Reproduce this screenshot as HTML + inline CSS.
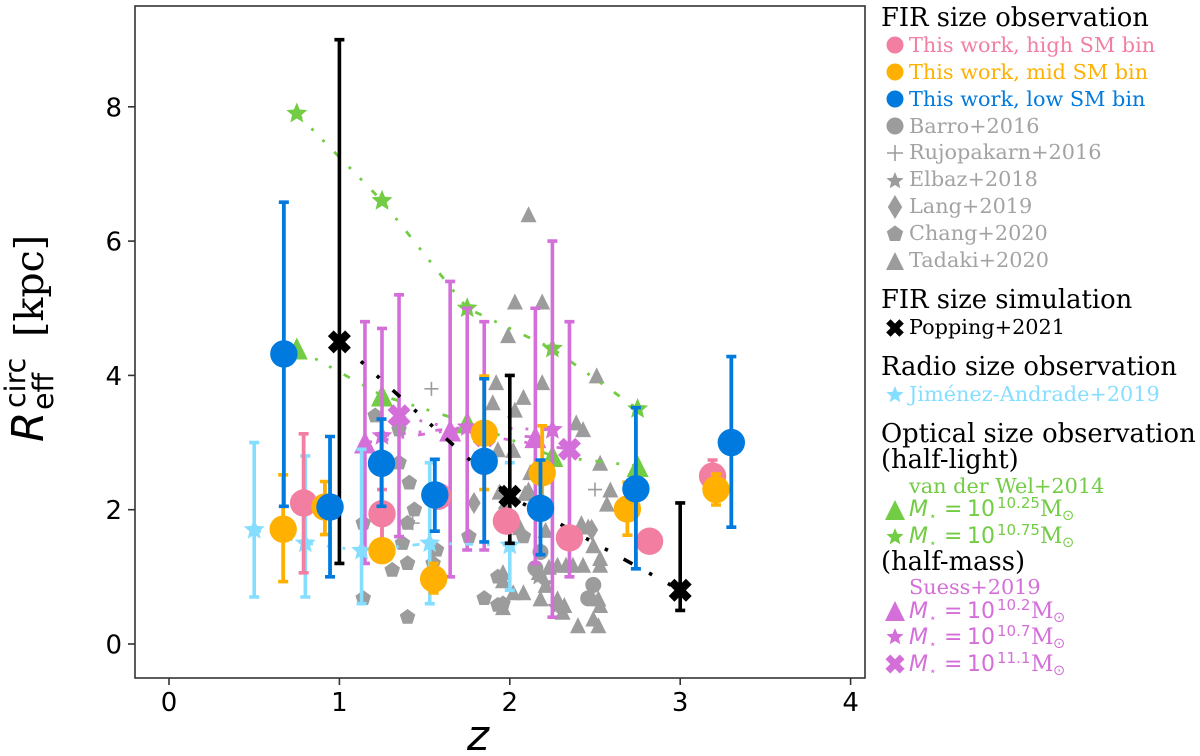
<!DOCTYPE html>
<html lang="en">
<head>
<meta charset="utf-8">
<title>Effective radius versus redshift</title>
<style>
html,body{margin:0;padding:0;background:#fff;}
svg{display:block;}
.lt{font-family:"DejaVu Serif","Liberation Serif",serif;font-size:20.8px;}
.ttl{font-family:"DejaVu Serif","Liberation Serif",serif;font-size:25.8px;fill:#000;}
.math{font-family:"DejaVu Sans","Liberation Sans",sans-serif;font-size:22px;}
.tick{font-family:"DejaVu Sans","Liberation Sans",sans-serif;font-size:26px;fill:#000;}
</style>
</head>
<body>
<svg id="chart" xmlns="http://www.w3.org/2000/svg" width="1200" height="756" viewBox="0 0 1200 756">
  <rect x="135" y="6" width="730" height="672" fill="#fff"/>
  <g id="marks"></g>
  <rect x="135" y="6" width="730" height="672" fill="none" stroke="#333" stroke-width="1.6"/>
  <g id="axes"></g>
  <text x="467" y="750" font-family="DejaVu Sans" font-style="italic" font-size="42">z</text>
  <g transform="translate(43,442) rotate(-90)">
    <text x="0" y="0" font-family="DejaVu Sans" font-style="italic" font-size="44">R</text>
    <text x="34" y="-18" font-family="DejaVu Sans" font-size="28.5">circ</text>
    <text x="32" y="10" font-family="DejaVu Sans" font-size="28.5">eff</text>
    <text x="105" y="0" font-family="DejaVu Serif" font-size="39.5">[kpc]</text>
  </g>
  <g id="legend-markers"></g>
  <g>
    <text class="ttl" x="881" y="26">FIR size observation</text>
    <text class="lt" x="909" y="52" fill="#f27fa2">This work, high SM bin</text>
    <text class="lt" x="909" y="79" fill="#ffb000">This work, mid SM bin</text>
    <text class="lt" x="909" y="106" fill="#007ade">This work, low SM bin</text>
    <text class="lt" x="909" y="133" fill="#a3a3a3">Barro+2016</text>
    <text class="lt" x="909" y="159" fill="#a3a3a3">Rujopakarn+2016</text>
    <text class="lt" x="909" y="186" fill="#a3a3a3">Elbaz+2018</text>
    <text class="lt" x="909" y="213" fill="#a3a3a3">Lang+2019</text>
    <text class="lt" x="909" y="240" fill="#a3a3a3">Chang+2020</text>
    <text class="lt" x="909" y="267" fill="#a3a3a3">Tadaki+2020</text>
    <text class="ttl" x="881" y="308">FIR size simulation</text>
    <text class="lt" x="909" y="334" fill="#000">Popping+2021</text>
    <text class="ttl" x="881" y="375">Radio size observation</text>
    <text class="lt" x="909" y="401" fill="#85deff">Jiménez-Andrade+2019</text>
    <text class="ttl" x="881" y="442">Optical size observation</text>
    <text class="ttl" x="881" y="468">(half-light)</text>
    <text class="lt" x="909" y="493" fill="#72cc44">van der Wel+2014</text>
    <text class="math" fill="#72cc44"><tspan x="909" y="516" font-style="italic">M</tspan><tspan x="929" y="520" font-size="12">⋆</tspan><tspan x="944" y="516">=</tspan><tspan x="967" y="516">10</tspan><tspan x="997" y="508" font-size="15">10.25</tspan><tspan x="1040" y="516" font-family="DejaVu Serif">M</tspan><tspan x="1062" y="520" font-size="14.5">⊙</tspan></text>
    <text class="math" fill="#72cc44"><tspan x="909" y="543" font-style="italic">M</tspan><tspan x="929" y="547" font-size="12">⋆</tspan><tspan x="944" y="543">=</tspan><tspan x="967" y="543">10</tspan><tspan x="997" y="535" font-size="15">10.75</tspan><tspan x="1040" y="543" font-family="DejaVu Serif">M</tspan><tspan x="1062" y="547" font-size="14.5">⊙</tspan></text>
    <text class="ttl" x="881" y="570">(half-mass)</text>
    <text class="lt" x="909" y="594" fill="#d46fd9">Suess+2019</text>
    <text class="math" fill="#d46fd9"><tspan x="909" y="618" font-style="italic">M</tspan><tspan x="929" y="622" font-size="12">⋆</tspan><tspan x="944" y="618">=</tspan><tspan x="967" y="618">10</tspan><tspan x="997" y="610" font-size="15">10.2</tspan><tspan x="1031" y="618" font-family="DejaVu Serif">M</tspan><tspan x="1053" y="622" font-size="14.5">⊙</tspan></text>
    <text class="math" fill="#d46fd9"><tspan x="909" y="644" font-style="italic">M</tspan><tspan x="929" y="648" font-size="12">⋆</tspan><tspan x="944" y="644">=</tspan><tspan x="967" y="644">10</tspan><tspan x="997" y="636" font-size="15">10.7</tspan><tspan x="1031" y="644" font-family="DejaVu Serif">M</tspan><tspan x="1053" y="648" font-size="14.5">⊙</tspan></text>
    <text class="math" fill="#d46fd9"><tspan x="909" y="671" font-style="italic">M</tspan><tspan x="929" y="675" font-size="12">⋆</tspan><tspan x="944" y="671">=</tspan><tspan x="967" y="671">10</tspan><tspan x="997" y="663" font-size="15">11.1</tspan><tspan x="1031" y="671" font-family="DejaVu Serif">M</tspan><tspan x="1053" y="675" font-size="14.5">⊙</tspan></text>
  </g>
</svg>
<script>
// ---- axis tick labels ----
const xTicks = [0, 1, 2, 3, 4];
const yTicks = [0, 2, 4, 6, 8];

// ---- literature scatter (grey) ----
const tadakiZ = [2.11,2.03,2.19,1.99,1.92,2.19,2.51,2.08,1.90,2.03,2.39,2.43,2.53,2.59,2.57,2.02,1.93,2.12,2.11,2.09,1.94,2.21,2.42,2.46,2.49,2.53,2.53,2.28,2.33,2.37,2.43,1.96,2.17,2.23,1.96,2.02,2.08,2.18,2.21,2.28,2.32,2.31,2.40,2.52,2.49,2.53,2.52,1.96,2.06];
const tadakiR = [6.40,5.10,5.10,4.60,3.90,3.90,4.00,3.68,3.60,3.49,3.30,3.20,2.70,2.30,2.09,2.89,2.90,2.56,2.30,2.25,2.27,1.70,1.80,1.75,1.47,1.28,1.18,1.18,1.18,1.18,1.18,1.07,1.07,1.15,0.95,0.77,0.77,0.68,0.88,0.68,0.58,0.48,0.28,0.28,0.38,0.58,0.68,0.55,1.74];
const changZ = [1.21,1.35,1.35,1.41,1.44,1.14,1.40,1.37,1.57,1.31,1.40,1.55,1.14,1.40,1.76,1.85,1.93,1.96,1.93,2.08];
const changR = [3.40,3.19,2.70,2.40,2.00,1.80,1.80,1.50,1.40,1.10,1.20,1.20,0.68,0.40,1.60,0.68,0.58,0.60,1.00,1.60];
const barroZ = [2.49,2.46,2.18,2.15];
const barroR = [0.88,0.68,1.37,1.13];
const rujoZ = [1.54,2.50,1.43];
const rujoR = [3.80,2.30,1.80];
const elbazZ = [2.21,2.27,2.17];
const elbazR = [0.90,0.55,1.00];
const langZ = [1.79,1.97,2.48];
const langR = [2.10,2.02,1.70];

// ---- van der Wel+2014 ----
const vdwZ = [0.75,1.25,1.75,2.25,2.75];
const vdwLow = [4.40,3.70,3.30,2.80,2.65];
const vdwHigh = [7.90,6.60,5.00,4.40,3.50];

// ---- Suess+2019 ----
const suessLowZ = [1.15,1.65,2.15];
const suessLowR = [3.00,3.18,3.08];
const suessLowMin = [1.20,1.00,1.20];
const suessLowMax = [4.80,5.40,5.00];
const suessMidZ = [1.25,1.75,2.25];
const suessMidR = [3.10,3.23,3.19];
const suessMidMin = [1.50,1.40,0.40];
const suessMidMax = [4.70,5.00,6.00];
const suessHighZ = [1.35,1.85,2.35];
const suessHighR = [3.40,3.10,2.90];
const suessHighMin = [1.60,1.40,1.00];
const suessHighMax = [5.20,4.80,4.80];

// ---- Jimenez-Andrade+2019 ----
const radioZ = [0.50,0.80,1.13,1.53,2.00];
const radioR = [1.70,1.50,1.39,1.50,1.47];
const radioMin = [0.70,0.70,0.60,0.60,0.80];
const radioMax = [3.00,2.80,2.90,2.70,2.70];

// ---- Popping+2021 ----
const simZ = [1,2,3];
const simR = [4.50,2.20,0.80];
const simMin = [1.20,1.50,0.50];
const simMax = [9.00,4.00,2.10];

// ---- This work ----
const highZ = [0.79,1.25,1.58,1.98,2.35,2.82,3.19];
const highR = [2.10,1.94,2.20,1.83,1.58,1.53,2.50];
const highMin = [1.06,1.50,2.05,1.70,1.45,1.42,2.30];
const highMax = [3.13,2.30,2.35,1.98,1.72,1.64,2.74];
const midZ = [0.67,0.915,1.25,1.553,1.85,2.19,2.69,3.21];
const midR = [1.71,2.04,1.39,0.97,3.14,2.55,2.01,2.30];
const midMin = [0.93,1.63,1.27,0.76,2.30,1.90,1.62,2.07];
const midMax = [2.52,2.42,1.52,1.20,3.99,3.25,2.41,2.53];
const lowZ = [0.674,0.945,1.247,1.56,1.85,2.18,2.74,3.30];
const lowR = [4.32,2.04,2.69,2.22,2.72,2.02,2.31,3.00];
const lowMin = [2.05,1.00,2.05,1.68,1.52,1.33,1.12,1.74];
const lowMax = [6.58,3.09,3.35,2.75,3.95,2.74,3.52,4.28];

// ---- colours ----
const GREY = '#9c9c9c', PINK = '#f27fa2', ORANGE = '#ffb000', BLUE = '#007ade',
      GREEN = '#72cc44', PURPLE = '#d46fd9', SKY = '#85deff', BLACK = '#000';

const NS = 'http://www.w3.org/2000/svg';
const marks = document.getElementById('marks');
const axes = document.getElementById('axes');
const legendMarkers = document.getElementById('legend-markers');

function xScale(z) { return 169 + z * 170.4; }
function yScale(r) { return 644 - r * 67.15; }

function starPoints(cx, cy, r) {
  const pts = [];
  for (let i = 0; i < 10; i++) {
    const a = -Math.PI / 2 + i * Math.PI / 5;
    const rad = i % 2 === 0 ? r : r * 0.45;
    pts.push((cx + rad * Math.cos(a)).toFixed(2) + ',' + (cy + rad * Math.sin(a)).toFixed(2));
  }
  return pts.join(' ');
}
function pentagonPoints(cx, cy, r) {
  const pts = [];
  for (let i = 0; i < 5; i++) {
    const a = -Math.PI / 2 + i * 2 * Math.PI / 5;
    pts.push((cx + r * Math.cos(a)).toFixed(2) + ',' + (cy + r * Math.sin(a)).toFixed(2));
  }
  return pts.join(' ');
}
function crossPoints(cx, cy, r) {
  const u = r / 2;
  const raw = [[-1,-2],[0,-1],[1,-2],[2,-1],[1,0],[2,1],[1,2],[0,1],[-1,2],[-2,1],[-1,0],[-2,-1]];
  return raw.map(p => (cx + p[0] * u).toFixed(2) + ',' + (cy + p[1] * u).toFixed(2)).join(' ');
}

function drawMarker(parent, kind, cx, cy, r, color, name) {
  let el;
  if (kind === 'circle') {
    el = document.createElementNS(NS, 'circle');
    el.setAttribute('cx', cx);
    el.setAttribute('cy', cy);
    el.setAttribute('r', r);
    el.setAttribute('fill', color);
  } else if (kind === 'plus') {
    el = document.createElementNS(NS, 'path');
    el.setAttribute('d', 'M' + (cx - r) + ' ' + cy + 'H' + (cx + r) + 'M' + cx + ' ' + (cy - r) + 'V' + (cy + r));
    el.setAttribute('stroke', color);
    el.setAttribute('stroke-width', '1.6');
    el.setAttribute('fill', 'none');
  } else {
    el = document.createElementNS(NS, 'polygon');
    let p = '';
    if (kind === 'star') p = starPoints(cx, cy, r);
    if (kind === 'pentagon') p = pentagonPoints(cx, cy, r);
    if (kind === 'cross') p = crossPoints(cx, cy, r);
    if (kind === 'triangle') p = cx + ',' + (cy - r) + ' ' + (cx - r) + ',' + (cy + r) + ' ' + (cx + r) + ',' + (cy + r);
    if (kind === 'diamond') p = cx + ',' + (cy - r) + ' ' + (cx + r * 0.6) + ',' + cy + ' ' + cx + ',' + (cy + r) + ' ' + (cx - r * 0.6) + ',' + cy;
    el.setAttribute('points', p);
    el.setAttribute('fill', color);
  }
  
  
  parent.appendChild(el);
}

function scatterSeries(zs, rs, kind, size, color, name) {
  const g = document.createElementNS(NS, 'g');
  
  
  zs.forEach((z, i) => drawMarker(g, kind, xScale(z), yScale(rs[i]), size, color, name + '-point'));
  marks.appendChild(g);
}

function linkLine(zs, rs, color, width, dash, name) {
  const el = document.createElementNS(NS, 'polyline');
  el.setAttribute('points', zs.map((z, i) => xScale(z).toFixed(2) + ',' + yScale(rs[i]).toFixed(2)).join(' '));
  el.setAttribute('fill', 'none');
  el.setAttribute('stroke', color);
  el.setAttribute('stroke-width', width);
  el.setAttribute('stroke-dasharray', dash);
  
  
  marks.appendChild(el);
}

function errorBars(zs, mins, maxs, color, width, cap, name) {
  const g = document.createElementNS(NS, 'g');
  
  
  g.setAttribute('stroke', color);
  g.setAttribute('fill', 'none');
  zs.forEach((z, i) => {
    const x = xScale(z), y0 = yScale(mins[i]), y1 = yScale(maxs[i]);
    const p = document.createElementNS(NS, 'path');
    p.setAttribute('d', 'M' + x + ' ' + y0 + 'V' + y1);
    p.setAttribute('stroke-width', width);
    
    
    g.appendChild(p);
    const c = document.createElementNS(NS, 'path');
    c.setAttribute('d', 'M' + (x - cap) + ' ' + y0 + 'H' + (x + cap) + 'M' + (x - cap) + ' ' + y1 + 'H' + (x + cap));
    c.setAttribute('stroke-width', '3.6');
    
    
    g.appendChild(c);
  });
  marks.appendChild(g);
}

// ---- grey literature points ----
scatterSeries(barroZ, barroR, 'circle', 8, GREY, 'barro');
scatterSeries(rujoZ, rujoR, 'plus', 7, GREY, 'rujopakarn');
scatterSeries(elbazZ, elbazR, 'star', 9.5, GREY, 'elbaz');
scatterSeries(langZ, langR, 'diamond', 11, GREY, 'lang');
scatterSeries(changZ, changR, 'pentagon', 8.2, GREY, 'chang');
scatterSeries(tadakiZ, tadakiR, 'triangle', 8, GREY, 'tadaki');

// ---- optical size trends ----
const DOTTED = '7 14 2.8 13 2.8 14';
linkLine(vdwZ, vdwHigh, GREEN, 2.8, DOTTED, 'vdw-high-line');
linkLine(vdwZ, vdwLow, GREEN, 2.8, DOTTED, 'vdw-low-line');
scatterSeries(vdwZ, vdwLow, 'triangle', 11, GREEN, 'vdw-low');
scatterSeries(vdwZ, vdwHigh, 'star', 11, GREEN, 'vdw-high');

errorBars(suessLowZ, suessLowMin, suessLowMax, PURPLE, 3.6, 5, 'suess-low-errorbar');
errorBars(suessMidZ, suessMidMin, suessMidMax, PURPLE, 3.6, 5, 'suess-mid-errorbar');
errorBars(suessHighZ, suessHighMin, suessHighMax, PURPLE, 3.6, 5, 'suess-high-errorbar');
linkLine(suessLowZ, suessLowR, PURPLE, 2.8, DOTTED, 'suess-low-line');
linkLine(suessMidZ, suessMidR, PURPLE, 2.8, DOTTED, 'suess-mid-line');
linkLine(suessHighZ, suessHighR, PURPLE, 2.8, DOTTED, 'suess-high-line');
scatterSeries(suessLowZ, suessLowR, 'triangle', 11, PURPLE, 'suess-low');
scatterSeries(suessMidZ, suessMidR, 'star', 11, PURPLE, 'suess-mid');
scatterSeries(suessHighZ, suessHighR, 'cross', 11.5, PURPLE, 'suess-high');

// ---- radio ----
errorBars(radioZ, radioMin, radioMax, SKY, 3.6, 5, 'radio-errorbar');
linkLine(radioZ, radioR, SKY, 2.8, DOTTED, 'radio-line');
scatterSeries(radioZ, radioR, 'star', 11, SKY, 'radio');

// ---- simulation ----
errorBars(simZ, simMin, simMax, BLACK, 3.6, 5, 'popping-errorbar');
linkLine(simZ, simR, BLACK, 3.6, '10 19 3.5 18 3.5 18', 'popping-line');
scatterSeries(simZ, simR, 'cross', 11.5, BLACK, 'popping');

// ---- this work ----
errorBars(highZ, highMin, highMax, PINK, 3.8, 5, 'high-sm-errorbar');
scatterSeries(highZ, highR, 'circle', 13.7, PINK, 'high-sm');
errorBars(midZ, midMin, midMax, ORANGE, 3.8, 5, 'mid-sm-errorbar');
scatterSeries(midZ, midR, 'circle', 13.7, ORANGE, 'mid-sm');
errorBars(lowZ, lowMin, lowMax, BLUE, 3.8, 5, 'low-sm-errorbar');
scatterSeries(lowZ, lowR, 'circle', 13.7, BLUE, 'low-sm');

// ---- axes ----
xTicks.forEach(t => {
  const x = xScale(t);
  const line = document.createElementNS(NS, 'line');
  line.setAttribute('x1', x);
  line.setAttribute('x2', x);
  line.setAttribute('y1', 678);
  line.setAttribute('y2', 685);
  line.setAttribute('stroke', '#333');
  line.setAttribute('stroke-width', '1.6');
  
  
  axes.appendChild(line);
  const label = document.createElementNS(NS, 'text');
  label.setAttribute('class', 'tick');
  label.setAttribute('x', x);
  label.setAttribute('y', 711);
  label.setAttribute('text-anchor', 'middle');
  
  
  label.textContent = t;
  axes.appendChild(label);
});
yTicks.forEach(t => {
  const y = yScale(t);
  const line = document.createElementNS(NS, 'line');
  line.setAttribute('x1', 128);
  line.setAttribute('x2', 135);
  line.setAttribute('y1', y);
  line.setAttribute('y2', y);
  line.setAttribute('stroke', '#333');
  line.setAttribute('stroke-width', '1.6');
  
  
  axes.appendChild(line);
  const label = document.createElementNS(NS, 'text');
  label.setAttribute('class', 'tick');
  label.setAttribute('x', 122);
  label.setAttribute('y', y + 9.5);
  label.setAttribute('text-anchor', 'end');
  
  
  label.textContent = t;
  axes.appendChild(label);
});

// ---- legend markers ----
drawMarker(legendMarkers, 'circle', 895, 45, 8.5, PINK, 'legend-marker-high-sm');
drawMarker(legendMarkers, 'circle', 895, 72, 8.5, ORANGE, 'legend-marker-mid-sm');
drawMarker(legendMarkers, 'circle', 895, 99, 8.5, BLUE, 'legend-marker-low-sm');
drawMarker(legendMarkers, 'circle', 895, 126, 8.5, GREY, 'legend-marker-barro');
drawMarker(legendMarkers, 'plus', 895, 153, 8, GREY, 'legend-marker-rujopakarn');
drawMarker(legendMarkers, 'star', 895, 181, 9, GREY, 'legend-marker-elbaz');
drawMarker(legendMarkers, 'diamond', 895, 207, 12, GREY, 'legend-marker-lang');
drawMarker(legendMarkers, 'pentagon', 895, 234, 8.6, GREY, 'legend-marker-chang');
drawMarker(legendMarkers, 'triangle', 895, 261, 9, GREY, 'legend-marker-tadaki');
drawMarker(legendMarkers, 'cross', 895, 328, 8.8, BLACK, 'legend-marker-popping');
drawMarker(legendMarkers, 'star', 895, 395, 9, SKY, 'legend-marker-jimenez');
drawMarker(legendMarkers, 'triangle', 895, 510, 10, GREEN, 'legend-marker-vdw-low');
drawMarker(legendMarkers, 'star', 895, 537, 9, GREEN, 'legend-marker-vdw-high');
drawMarker(legendMarkers, 'triangle', 895, 611, 10, PURPLE, 'legend-marker-suess-low');
drawMarker(legendMarkers, 'star', 895, 637, 9, PURPLE, 'legend-marker-suess-mid');
drawMarker(legendMarkers, 'cross', 895, 664, 9.5, PURPLE, 'legend-marker-suess-high');
</script>
</body>
</html>
